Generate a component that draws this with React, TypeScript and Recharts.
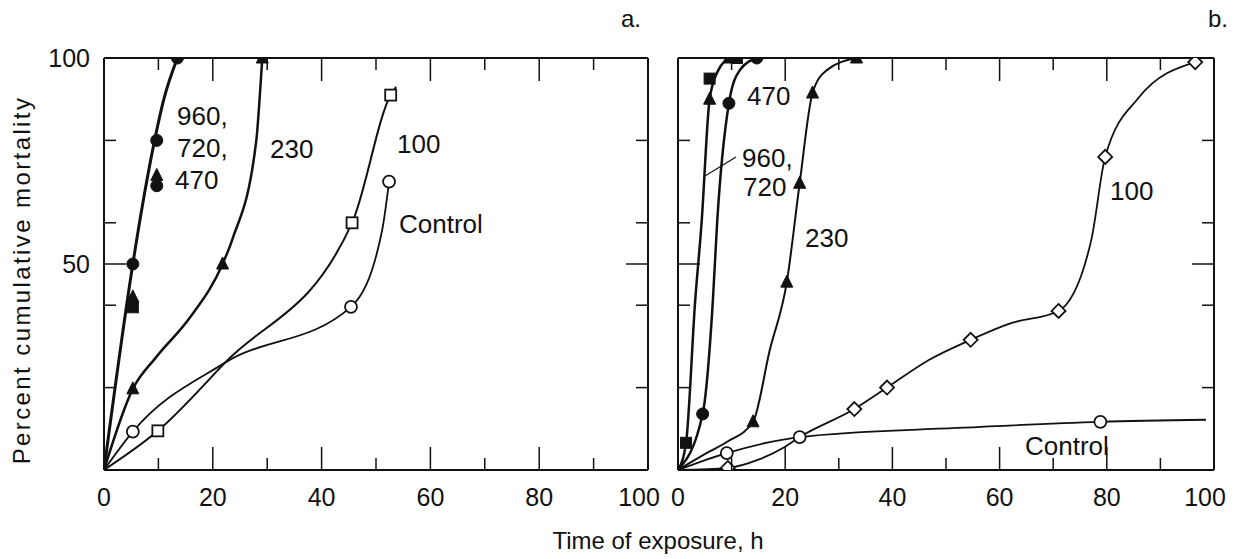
import { ComposedChart, Line, Scatter, XAxis, YAxis, ReferenceLine } from 'recharts';

// ---- panel a (left) ----
const aHighCurve = [
  { x: 0, y: 0 }, { x: 5.3, y: 50 }, { x: 7.3, y: 66 }, { x: 9.3, y: 80 }, { x: 11, y: 90 }, { x: 13.5, y: 100 },
];
const aHighCircles = [{ x: 5.3, y: 50 }, { x: 9.7, y: 80 }, { x: 9.7, y: 69 }, { x: 13.5, y: 100 }];
const aHighSquares = [{ x: 5.3, y: 39.5 }];
const aHighTriangles = [{ x: 5.3, y: 42 }, { x: 9.7, y: 71.5 }];

const a230Curve = [
  { x: 0, y: 0 }, { x: 5.3, y: 19.7 }, { x: 9.6, y: 27.4 }, { x: 15.8, y: 37 }, { x: 21.8, y: 50 }, { x: 23.6, y: 56 },
  { x: 28, y: 80 }, { x: 28.6, y: 90 }, { x: 29.1, y: 100 },
];
const a230Triangles = [{ x: 5.3, y: 19.7 }, { x: 21.8, y: 50 }, { x: 29.1, y: 100 }];

const a100Curve = [
  { x: 0, y: 0 }, { x: 9.9, y: 9.5 }, { x: 22.2, y: 26 }, { x: 45.6, y: 60 },
  { x: 52.7, y: 91 }, { x: 53.7, y: 93 },
];
const a100Squares = [{ x: 9.9, y: 9.5 }, { x: 45.6, y: 60 }, { x: 52.7, y: 91 }];

const aControlCurve = [
  { x: 0, y: 0 }, { x: 5.3, y: 9.3 }, { x: 22.2, y: 26 }, { x: 45.4, y: 39.6 }, { x: 51.1, y: 58 }, { x: 52.4, y: 70 },
];
const aControlCircles = [{ x: 5.3, y: 9.3 }, { x: 45.4, y: 39.6 }, { x: 52.4, y: 70 }];

// ---- panel b (right) ----
const bHighCurve = [
  { x: 0, y: 0 }, { x: 1.5, y: 6.6 }, { x: 3.2, y: 41 }, { x: 4.4, y: 60 }, { x: 5.9, y: 90 }, { x: 7.5, y: 97 }, { x: 9.7, y: 100 },
];
const bHighSquares = [{ x: 1.5, y: 6.6 }, { x: 5.9, y: 95 }, { x: 11, y: 100 }];
const bHighTriangles = [{ x: 5.9, y: 90 }, { x: 9.5, y: 100 }];

const b470Curve = [
  { x: 0, y: 0 }, { x: 4.6, y: 13.6 }, { x: 6.5, y: 41 }, { x: 7.3, y: 60 }, { x: 9.5, y: 89 }, { x: 11.5, y: 97 }, { x: 14.7, y: 100 },
];
const b470Circles = [{ x: 4.6, y: 13.6 }, { x: 9.5, y: 89 }, { x: 14.7, y: 100 }];

const b230Curve = [
  { x: 0, y: 0 }, { x: 5.9, y: 4.5 }, { x: 9.1, y: 6.8 }, { x: 14, y: 11.7 }, { x: 17.1, y: 29 }, { x: 20.3, y: 45.6 },
  { x: 22.7, y: 69.6 }, { x: 25.1, y: 91.5 }, { x: 27.7, y: 97 }, { x: 33.3, y: 100 },
];
const b230Triangles = [{ x: 14, y: 11.7 }, { x: 20.3, y: 45.6 }, { x: 22.7, y: 69.6 }, { x: 25.1, y: 91.5 }, { x: 33.3, y: 100 }];

const b100Curve = [
  { x: 0, y: 0 }, { x: 9.3, y: 0.5 }, { x: 15, y: 2.5 }, { x: 19.9, y: 5.6 }, { x: 22.7, y: 8 }, { x: 32.9, y: 14.8 },
  { x: 39, y: 20 }, { x: 46.8, y: 26.7 }, { x: 54.6, y: 31.6 }, { x: 62.3, y: 35.7 }, { x: 71, y: 38.6 },
  { x: 77.1, y: 55.8 }, { x: 79.7, y: 76 }, { x: 85.9, y: 90.3 }, { x: 96.5, y: 99 },
];
const b100Diamonds = [
  { x: 9.3, y: 0.5 }, { x: 32.9, y: 14.8 }, { x: 39, y: 20 }, { x: 54.6, y: 31.6 }, { x: 71, y: 38.6 }, { x: 79.7, y: 76 }, { x: 96.5, y: 99 },
];

const bControlCurve = [
  { x: 0, y: 0 }, { x: 9.1, y: 4.1 }, { x: 22.7, y: 8 }, { x: 52, y: 10.2 }, { x: 78.8, y: 11.7 }, { x: 98.5, y: 12.2 },
];
const bControlCircles = [{ x: 9.1, y: 4.1 }, { x: 22.7, y: 8 }, { x: 78.8, y: 11.7 }];

const xTicks = [0, 10, 20, 30, 40, 50, 60, 70, 80, 90, 100];
const xLabelTicks = [0, 20, 40, 60, 80, 100];
const yTicks = [0, 20, 40, 50, 60, 80, 100];
const yLabelTicks = [50, 100];

const FONT = '"Liberation Sans", Arial, sans-serif';
const INK = '#111';
const PLOT_H = 412;

function Marker(props: any) {
  const { cx, cy, kind, open } = props;
  if (cx == null || cy == null) return null;
  const fill = open ? '#fff' : INK;
  const sw = open ? 1.8 : 1;
  if (kind === 'circle') return <circle cx={cx} cy={cy} r={6} fill={fill} stroke={INK} strokeWidth={sw} />;
  if (kind === 'square') return <rect x={cx - 5.5} y={cy - 5.5} width={11} height={11} fill={fill} stroke={INK} strokeWidth={sw} />;
  if (kind === 'triangle')
    return <polygon points={`${cx},${cy - 7} ${cx - 6},${cy + 5} ${cx + 6},${cy + 5}`} fill={fill} stroke={INK} strokeWidth={sw} />;
  return <polygon points={`${cx},${cy - 7} ${cx + 7},${cy} ${cx},${cy + 7} ${cx - 7},${cy}`} fill={fill} stroke={INK} strokeWidth={sw} />;
}

function makeXTick(plotH: number) {
  return (props: any) => {
    const { x, y, payload } = props;
    const v = payload.value;
    const len = v % 20 === 0 ? 23 : 12;
    const inner = v !== 0 && v !== 100;
    const lx = v === 100 ? x - 9 : x; // "100" sits a little inside the corner
    return (
      <g>
        {inner && <line x1={x} x2={x} y1={y} y2={y - len} stroke={INK} strokeWidth={1.5} />}
        {inner && <line x1={x} x2={x} y1={y - plotH} y2={y - plotH + len} stroke={INK} strokeWidth={1.5} />}
        {xLabelTicks.includes(v) && (
          <text x={lx} y={y + 36} textAnchor="middle" fontSize={25} fontFamily={FONT} fill={INK}>{v}</text>
        )}
      </g>
    );
  };
}

function makeYTick(plotW: number, showLabels: boolean) {
  return (props: any) => {
    const { x, y, payload } = props;
    const v = payload.value;
    const len = v === 50 ? 22 : 12;
    const inner = v !== 0 && v !== 100;
    return (
      <g>
        {inner && <line x1={x} x2={x + len} y1={y} y2={y} stroke={INK} strokeWidth={1.5} />}
        {inner && <line x1={x + plotW} x2={x + plotW - len} y1={y} y2={y} stroke={INK} strokeWidth={1.5} />}
        {showLabels && yLabelTicks.includes(v) && (
          <text x={x - 14} y={y + 9} textAnchor="end" fontSize={25} fontFamily={FONT} fill={INK}>{v}</text>
        )}
      </g>
    );
  };
}

function Panel(props: { width: number; left: number; right: number; showY: boolean; children: any }) {
  const { width, left, right, showY, children } = props;
  const plotW = width - left - right;
  const yAxisW = showY ? 60 : 10;
  return (
    <ComposedChart width={width} height={559} margin={{ top: 58, left: left - yAxisW, right, bottom: 29 }}>
      <XAxis
        type="number"
        dataKey="x"
        domain={[0, 100]}
        ticks={xTicks}
        interval={0}
        height={60}
        tickSize={0}
        tickMargin={0}
        tick={makeXTick(PLOT_H)}
        axisLine={{ stroke: INK, strokeWidth: 2 }}
        allowDataOverflow
      />
      <YAxis
        type="number"
        dataKey="y"
        domain={[0, 100]}
        ticks={yTicks}
        interval={0}
        width={yAxisW}
        tickSize={0}
        tickMargin={0}
        tick={makeYTick(plotW, showY)}
        axisLine={{ stroke: INK, strokeWidth: 2 }}
        allowDataOverflow
      />
      <ReferenceLine y={100} stroke={INK} strokeWidth={2} />
      <ReferenceLine x={100} stroke={INK} strokeWidth={2} />
      {children}
    </ComposedChart>
  );
}

function curve(data: any[], w: number, key: string) {
  return (
    <Line key={key} data={data} dataKey="y" type="monotone" stroke={INK} strokeWidth={w} dot={false}
      activeDot={false} isAnimationActive={false} />
  );
}

function marks(data: any[], kind: string, open: boolean, key: string) {
  return (
    <Scatter key={key} data={data} dataKey="y" isAnimationActive={false}
      shape={(p: any) => <Marker {...p} kind={kind} open={open} />} />
  );
}

const txt = { fontFamily: FONT, fill: INK, fontSize: 26 } as const;

export default function App() {
  return (
    <div style={{ position: 'absolute', left: 0, top: 0, width: 1238, height: 559, background: '#fff', overflow: 'hidden' }}>
      <div style={{ position: 'absolute', left: 0, top: 0 }}>
        <Panel width={670} left={104} right={22} showY>
          {curve(aControlCurve, 1.8, 'ac')}
          {curve(a100Curve, 2, 'a100')}
          {curve(a230Curve, 2.5, 'a230')}
          {curve(aHighCurve, 3, 'ahi')}
          {marks(aControlCircles, 'circle', true, 'acm')}
          {marks(a100Squares, 'square', true, 'a100m')}
          {marks(a230Triangles, 'triangle', false, 'a230m')}
          {marks(aHighSquares, 'square', false, 'ahs')}
          {marks(aHighTriangles, 'triangle', false, 'aht')}
          {marks(aHighCircles, 'circle', false, 'ahc')}
        </Panel>
      </div>
      <div style={{ position: 'absolute', left: 660, top: 0 }}>
        <Panel width={578} left={18} right={24} showY={false}>
          {curve(bControlCurve, 1.8, 'bc')}
          {curve(b100Curve, 1.8, 'b100')}
          {curve(b230Curve, 2, 'b230')}
          {curve(b470Curve, 2.5, 'b470')}
          {curve(bHighCurve, 2.5, 'bhi')}
          {marks(bControlCircles, 'circle', true, 'bcm')}
          {marks(b100Diamonds, 'diamond', true, 'b100m')}
          {marks(b230Triangles, 'triangle', false, 'b230m')}
          {marks(b470Circles, 'circle', false, 'b470m')}
          {marks(bHighTriangles, 'triangle', false, 'bht')}
          {marks(bHighSquares, 'square', false, 'bhs')}
        </Panel>
      </div>
      <svg width={1238} height={559} style={{ position: 'absolute', left: 0, top: 0, pointerEvents: 'none' }}>
        <text x={621} y={27} {...txt} fontSize={24}>a.</text>
        <text x={1208} y={27} {...txt} fontSize={24}>b.</text>
        <text x={177} y={125} {...txt}>960,</text>
        <text x={177} y={157} {...txt}>720,</text>
        <text x={175} y={189} {...txt}>470</text>
        <text x={270} y={158} {...txt}>230</text>
        <text x={397} y={153} {...txt}>100</text>
        <text x={399} y={233} {...txt}>Control</text>
        <text x={747} y={105} {...txt}>470</text>
        <text x={742} y={167} {...txt}>960,</text>
        <text x={743} y={196} {...txt}>720</text>
        <line x1={736} y1={157} x2={705} y2={176} stroke={INK} strokeWidth={1.2} />
        <text x={805} y={247} {...txt}>230</text>
        <text x={1110} y={200} {...txt}>100</text>
        <text x={1025} y={455} {...txt}>Control</text>
        <text x={30} y={280} {...txt} fontSize={24} letterSpacing={2.4} textAnchor="middle" transform="rotate(-90 30 280)">
          Percent cumulative mortality
        </text>
        <text x={658} y={549} {...txt} fontSize={24} textAnchor="middle">Time of exposure, h</text>
      </svg>
    </div>
  );
}
